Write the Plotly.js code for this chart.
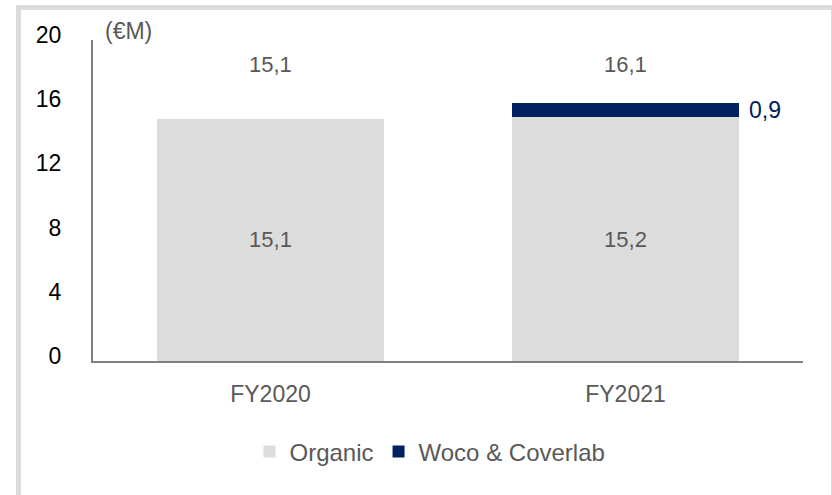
<!DOCTYPE html>
<html>
<head>
<meta charset="utf-8">
<script src="https://cdn.plot.ly/plotly-3.0.1.min.js"></script>
<style>html,body{margin:0;padding:0;background:#fff;}#chart{width:832px;height:495px;}</style>
</head>
<body>
<div id="chart"></div>
<script>
const categories = ['FY2020', 'FY2021'];
const organic = [15.1, 15.2];
const woco = [0, 0.9];
const organicLabels = ['15,1', '15,2'];
const wocoLabels = ['', '0,9'];
const totalLabels = ['15,1', '16,1'];
const yTicks = [0, 4, 8, 12, 16, 20];
const unitLabel = '(€M)';

const L = 93, R = 803, T = 40, B = 361;
const px = x => (x - L) / (R - L);
const py = y => (B - y) / (B - T);

const FONT = 'Liberation Sans, Arial, sans-serif';
const GREY = '#595959';
const NAVY = '#002060';

const traces = [
  {
    type: 'bar', name: 'Organic', x: categories, y: organic,
    marker: {color: '#dcdcdc'},
    text: organicLabels, textposition: 'inside', insidetextanchor: 'middle',
    textfont: {family: FONT, size: 22, color: GREY},
    hoverinfo: 'skip'
  },
  {
    type: 'bar', name: 'Woco & Coverlab', x: categories, y: woco,
    marker: {color: NAVY},
    hoverinfo: 'skip'
  }
];

const annotations = [];
categories.forEach((c, i) => {
  annotations.push({
    x: c, y: 18.5, xref: 'x', yref: 'y', text: totalLabels[i], showarrow: false,
    font: {family: FONT, size: 22, color: GREY}
  });
  if (woco[i] > 0) {
    annotations.push({
      x: c, y: organic[i] + woco[i] / 2, xref: 'x', yref: 'y', text: wocoLabels[i],
      showarrow: false, xanchor: 'left', xshift: 121,
      font: {family: FONT, size: 23, color: NAVY}
    });
  }
});
annotations.push({
  x: px(103), y: py(31), xref: 'paper', yref: 'paper', xanchor: 'left', yanchor: 'middle',
  text: unitLabel, showarrow: false, font: {family: FONT, size: 23, color: GREY}
});

const layout = {
  width: 832, height: 495,
  margin: {l: L, r: 832 - R, t: T, b: 495 - B},
  paper_bgcolor: '#fff', plot_bgcolor: '#fff',
  barmode: 'stack', bargap: 0.358,
  font: {family: FONT, color: GREY},
  xaxis: {
    showline: true, linecolor: '#808080', linewidth: 2, ticks: '',
    showgrid: false, zeroline: false,
    tickfont: {family: FONT, size: 23, color: GREY},
    ticklabelstandoff: 11
  },
  yaxis: {
    range: [0, 20], tickvals: yTicks, ticktext: yTicks.map(String),
    showline: true, linecolor: '#808080', linewidth: 2, ticks: '',
    showgrid: false, zeroline: false,
    tickfont: {family: FONT, size: 23, color: '#000'},
    ticklabelstandoff: 25, ticklabelshift: -5
  },
  showlegend: true,
  legend: {
    orientation: 'h', x: px(430), xanchor: 'center', y: py(452), yanchor: 'middle',
    font: {family: FONT, size: 24, color: GREY}, traceorder: 'normal'
  },
  annotations: annotations,
  shapes: [{
    type: 'rect', xref: 'paper', yref: 'paper',
    x0: px(18.5), x1: px(833.5), y0: py(505), y1: py(7.5),
    line: {color: '#dcdcdc', width: 5}, fillcolor: 'rgba(0,0,0,0)', layer: 'below'
  }]
};

Plotly.newPlot('chart', traces, layout, {displayModeBar: false, staticPlot: true});
</script>
</body>
</html>
